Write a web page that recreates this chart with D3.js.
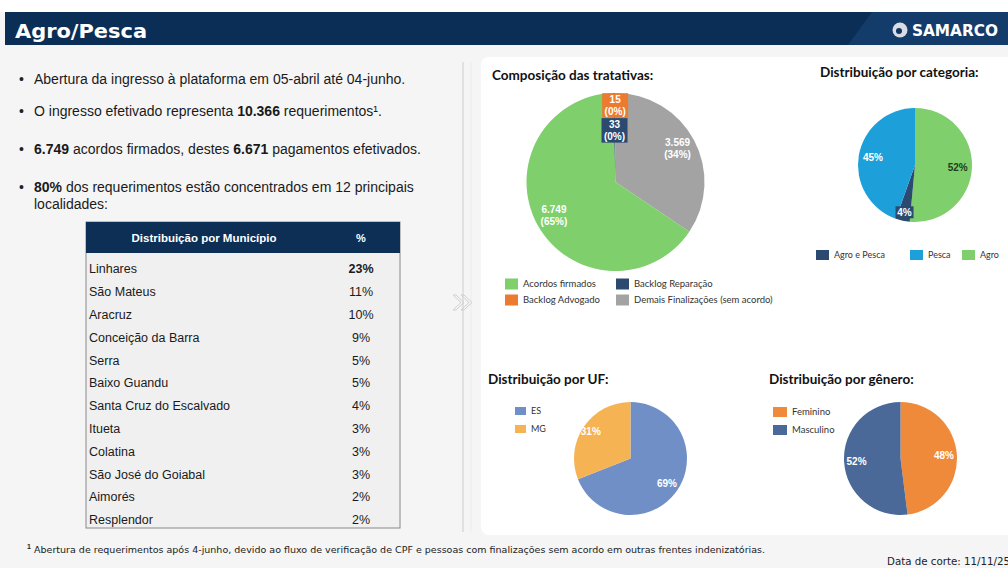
<!DOCTYPE html>
<html>
<head>
<meta charset="utf-8">
<script src="https://cdn.jsdelivr.net/npm/d3@7"></script>
<style>
body { margin: 0; background: #ffffff; }
svg { display: block; }
</style>
</head>
<body>
<svg width="1008" height="568"></svg>
<script>
//--------------------------DATA------------------------------------------------
var bullets = [
    [["Abertura da ingresso à plataforma em 05-abril até 04-junho.", false]],
    [["O ingresso efetivado representa ", false], ["10.366", true], [" requerimentos¹.", false]],
    [["6.749", true], [" acordos firmados, destes ", false], ["6.671", true], [" pagamentos efetivados.", false]],
    [["80%", true], [" dos requerimentos estão concentrados em 12 principais", false]],
    [["localidades:", false]]
];
var municipios = ["Linhares", "São Mateus", "Aracruz", "Conceição da Barra", "Serra", "Baixo Guandu",
    "Santa Cruz do Escalvado", "Itueta", "Colatina", "São José do Goiabal", "Aimorés", "Resplendor"];
var municipioPct = [23, 11, 10, 9, 5, 5, 4, 3, 3, 3, 2, 2];

var tratativaLabels = ["Demais Finalizações (sem acordo)", "Acordos firmados", "Backlog Reparação", "Backlog Advogado"];
var tratativaValues = [3569, 6749, 33, 15];
var tratativaLegend = ["Acordos firmados", "Backlog Reparação", "Backlog Advogado", "Demais Finalizações (sem acordo)"];

var categoriaLabels = ["Agro", "Agro e Pesca", "Pesca"];
var categoriaPct = [52, 4, 45];
var categoriaLegend = ["Agro e Pesca", "Pesca", "Agro"];

var ufLabels = ["ES", "MG"];
var ufPct = [69, 31];

var generoLabels = ["Feminino", "Masculino"];
var generoPct = [48, 52];

var colors = {
    "Acordos firmados": "#7fcf6c",
    "Backlog Reparação": "#2c4a70",
    "Backlog Advogado": "#ec7b30",
    "Demais Finalizações (sem acordo)": "#a3a3a3",
    "Agro": "#7fcf6c",
    "Agro e Pesca": "#2c4a70",
    "Pesca": "#1da0d9",
    "ES": "#6f8fc6",
    "MG": "#f6b353",
    "Feminino": "#ef8a3b",
    "Masculino": "#4a6898"
};

var ptBR = d3.formatLocale({ decimal: ",", thousands: ".", grouping: [3], currency: ["R$", ""] });
var fmt = ptBR.format(",");

var svg = d3.select("svg");

//--------------------------BACKGROUND------------------------------------------
svg.append("rect").attr("width", 1008).attr("height", 568).attr("fill", "#f5f5f5");
svg.append("rect").attr("x", 0).attr("y", 0).attr("width", 1008).attr("height", 12).attr("fill", "#ffffff");

// header bar
svg.append("rect").attr("x", 5).attr("y", 12).attr("width", 1003).attr("height", 33).attr("fill", "#0b2e56");
svg.append("polygon")
    .attr("points", "848,45 872,12 1008,12 1008,45")
    .attr("fill", "#15406f")
    .attr("opacity", 0.8);
svg.append("text")
    .attr("x", 15).attr("y", 38)
    .attr("fill", "#ffffff")
    .style("font-family", "'DejaVu Sans Condensed', 'DejaVu Sans'")
    .style("font-weight", "600")
    .style("font-size", "20px")
    .attr("textLength", 132)
    .attr("lengthAdjust", "spacingAndGlyphs")
    .text("Agro/Pesca");

// logo
svg.append("circle").attr("cx", 900).attr("cy", 30).attr("r", 7.5).attr("fill", "#d9dde3");
svg.append("circle").attr("cx", 899).attr("cy", 31).attr("r", 3).attr("fill", "#0f3760");
svg.append("text")
    .attr("x", 912).attr("y", 36)
    .attr("fill", "#ffffff")
    .style("font-family", "'DejaVu Sans Condensed', 'DejaVu Sans'")
    .style("font-weight", "bold")
    .style("font-size", "15px")
    .attr("textLength", 86)
    .attr("lengthAdjust", "spacingAndGlyphs")
    .text("SAMARCO");

// right panel + divider
svg.append("rect")
    .attr("x", 481).attr("y", 57).attr("width", 540).attr("height", 478).attr("rx", 8)
    .attr("fill", "#ffffff");
svg.append("line")
    .attr("x1", 463).attr("x2", 463).attr("y1", 62).attr("y2", 532)
    .attr("stroke", "#dadada").attr("stroke-width", 1.5);
svg.append("line")
    .attr("x1", 471).attr("x2", 471).attr("y1", 62).attr("y2", 532)
    .attr("stroke", "#ececec").attr("stroke-width", 1);

// chevrons
[453, 461].forEach(function(cx) {
    svg.append("path")
        .attr("d", "M" + cx + ",295 L" + (cx + 8) + ",302.5 L" + cx + ",310 L" + (cx + 3) + ",310 L" + (cx + 11) + ",302.5 L" + (cx + 3) + ",295 Z")
        .attr("fill", "none")
        .attr("stroke", "#cfcfcf")
        .attr("stroke-width", 1);
});

//--------------------------BULLETS---------------------------------------------
var bulletY = [84, 116, 154, 192, 209];
bullets.forEach(function(line, i) {
    if (i < 4) {
        svg.append("text")
            .attr("x", 19).attr("y", bulletY[i])
            .attr("fill", "#222")
            .style("font-family", "'Liberation Sans', Arial, sans-serif")
            .style("font-size", "14px")
            .text("•");
    }
    var t = svg.append("text")
        .attr("x", 34).attr("y", bulletY[i])
        .attr("fill", "#1a1a1a")
        .style("font-family", "'Liberation Sans', Arial, sans-serif")
        .style("font-size", "14px");
    line.forEach(function(seg) {
        t.append("tspan")
            .style("font-weight", seg[1] ? "bold" : "normal")
            .text(seg[0]);
    });
});

//--------------------------TABLE-----------------------------------------------
var table = { x: 86, y: 222, w: 314, headH: 31, rowH: 22.8 };
var rowY = d3.scaleBand()
    .domain(municipios)
    .range([table.y + table.headH + 5, table.y + table.headH + 5 + municipios.length * table.rowH]);

svg.append("rect")
    .attr("x", table.x).attr("y", table.y).attr("width", table.w).attr("height", 306)
    .attr("fill", "#f0f0f0").attr("stroke", "#8a8a8a").attr("stroke-width", 1);
svg.append("rect")
    .attr("x", table.x).attr("y", table.y).attr("width", table.w).attr("height", table.headH)
    .attr("fill", "#0d2f56");
svg.append("text")
    .attr("x", 204).attr("y", table.y + 20)
    .attr("text-anchor", "middle")
    .attr("fill", "#ffffff")
    .style("font-family", "'Liberation Sans', Arial, sans-serif")
    .style("font-weight", "bold")
    .style("font-size", "11.5px")
    .text("Distribuição por Município");
svg.append("text")
    .attr("x", 361).attr("y", table.y + 20)
    .attr("text-anchor", "middle")
    .attr("fill", "#ffffff")
    .style("font-family", "'Liberation Sans', Arial, sans-serif")
    .style("font-weight", "bold")
    .style("font-size", "11px")
    .text("%");

var rows = svg.append("g").selectAll("g")
    .data(municipios)
    .enter().append("g")
    .attr("transform", function(d) { return "translate(0," + (rowY(d) + rowY.bandwidth() / 2 + 4) + ")"; });
rows.append("text")
    .attr("x", 89)
    .attr("fill", "#1a1a1a")
    .style("font-family", "'Liberation Sans', Arial, sans-serif")
    .style("font-size", "12.5px")
    .text(function(d) { return d; });
rows.append("text")
    .attr("x", 361)
    .attr("text-anchor", "middle")
    .attr("fill", "#1a1a1a")
    .style("font-family", "'Liberation Sans', Arial, sans-serif")
    .style("font-size", "12.5px")
    .style("font-weight", function(d, i) { return i === 0 ? "bold" : "normal"; })
    .text(function(d, i) { return municipioPct[i] + "%"; });

//--------------------------PIES------------------------------------------------
var titleFont = "Lato, 'Open Sans', sans-serif";

function title(x, y, txt) {
    svg.append("text")
        .attr("x", x).attr("y", y)
        .attr("fill", "#111")
        .style("font-family", titleFont)
        .style("font-weight", "bold")
        .style("font-size", "13.5px")
        .text(txt);
}

function drawPie(cx, cy, r, labels, values, labelFn, labelR, labelColor) {
    var pie = d3.pie().sort(null).value(function(d) { return d; });
    var arcs = pie(values);
    var g = svg.append("g").attr("transform", "translate(" + cx + "," + cy + ")");
    var arc = d3.arc().innerRadius(0).outerRadius(r);
    g.selectAll("path")
        .data(arcs)
        .enter().append("path")
        .attr("d", arc)
        .attr("fill", function(d, i) { return colors[labels[i]]; });
    arcs.forEach(function(d, i) {
        var lr = labelR[i] * r;
        var a = (d.startAngle + d.endAngle) / 2;
        var lx = Math.sin(a) * lr;
        var ly = -Math.cos(a) * lr;
        var lines = labelFn(d, i);
        if (lines.box) {
            g.append("rect")
                .attr("x", lx - lines.box[0] / 2).attr("y", ly - lines.box[1] / 2)
                .attr("width", lines.box[0]).attr("height", lines.box[1])
                .attr("fill", colors[labels[i]]);
        }
        var t = g.append("text")
            .attr("text-anchor", "middle")
            .attr("fill", labelColor[i])
            .style("font-family", "'Liberation Sans', Arial, sans-serif")
            .style("font-weight", "bold")
            .style("font-size", "10px");
        lines.text.forEach(function(s, k) {
            t.append("tspan")
                .attr("x", lx)
                .attr("y", ly + 3.5 + (k - (lines.text.length - 1) / 2) * 12)
                .text(s);
        });
    });
}

function legend(items, positions, fontSize, sq) {
    items.forEach(function(name, i) {
        var p = positions[i];
        svg.append("rect")
            .attr("x", p[0]).attr("y", p[1] - sq[1] / 2)
            .attr("width", sq[0]).attr("height", sq[1])
            .attr("fill", colors[name]);
        svg.append("text")
            .attr("x", p[0] + sq[0] + 5).attr("y", p[1] + fontSize * 0.35)
            .attr("fill", "#333")
            .style("font-family", titleFont)
            .style("font-size", fontSize + "px")
            .text(name);
    });
}

// Composição das tratativas
var tratTotal = d3.sum(tratativaValues);
title(492, 80, "Composição das tratativas:");
drawPie(615.5, 182, 89, tratativaLabels, tratativaValues,
    function(d, i) {
        var pct = "(" + Math.round(d.value / tratTotal * 100) + "%)";
        var out = { text: [fmt(d.value), pct] };
        if (i >= 2) { out.box = [26, 24.5]; }
        return out;
    },
    [0.79, 0.79, 0.58, 0.86],
    ["#ffffff", "#ffffff", "#ffffff", "#ffffff"]);
legend(tratativaLegend, [[505, 284], [616, 284], [505, 300], [616, 300]], 9.5, [13, 11]);

// Distribuição por categoria
title(820, 77, "Distribuição por categoria:");
drawPie(915, 165, 57, categoriaLabels, categoriaPct,
    function(d, i) {
        var out = { text: [d.value + "%"] };
        if (i === 1) { out.box = [18, 12]; }
        return out;
    },
    [0.75, 0.85, 0.75],
    ["#1f3d1f", "#ffffff", "#ffffff"]);
legend(categoriaLegend, [[816, 255], [910, 255], [962, 255]], 9, [13, 10]);

// Distribuição por UF
title(488, 384, "Distribuição por UF:");
drawPie(630.5, 458.5, 56.5, ufLabels, ufPct,
    function(d) { return { text: [d.value + "%"] }; },
    [0.78, 0.85],
    ["#ffffff", "#ffffff"]);
legend(ufLabels, [[515, 411], [515, 429]], 9, [11, 8]);

// Distribuição por gênero
title(769, 384, "Distribuição por gênero:");
drawPie(900.5, 458.5, 56.5, generoLabels, generoPct,
    function(d) { return { text: [d.value + "%"] }; },
    [0.77, 0.78],
    ["#ffffff", "#ffffff"]);
legend(generoLabels, [[773, 412], [773, 430]], 9.5, [14, 10]);

//--------------------------FOOTER----------------------------------------------
svg.append("text")
    .attr("x", 27).attr("y", 549)
    .attr("fill", "#222")
    .style("font-family", "'Liberation Sans', Arial, sans-serif")
    .style("font-weight", "bold")
    .style("font-size", "7px")
    .text("1");
svg.append("text")
    .attr("x", 34).attr("y", 553)
    .attr("fill", "#222")
    .style("font-family", "'DejaVu Sans Condensed', 'DejaVu Sans'")
    .style("font-size", "8.5px")
    .attr("textLength", 731)
    .attr("lengthAdjust", "spacingAndGlyphs")
    .text("Abertura de requerimentos após 4-junho, devido ao fluxo de verificação de CPF e pessoas com finalizações sem acordo em outras frentes indenizatórias.");
svg.append("text")
    .attr("x", 887).attr("y", 565)
    .attr("fill", "#222")
    .style("font-family", "'DejaVu Sans Condensed', 'DejaVu Sans'")
    .style("font-size", "10px")
    .attr("textLength", 123)
    .attr("lengthAdjust", "spacingAndGlyphs")
    .text("Data de corte: 11/11/25");
</script>
</body>
</html>
